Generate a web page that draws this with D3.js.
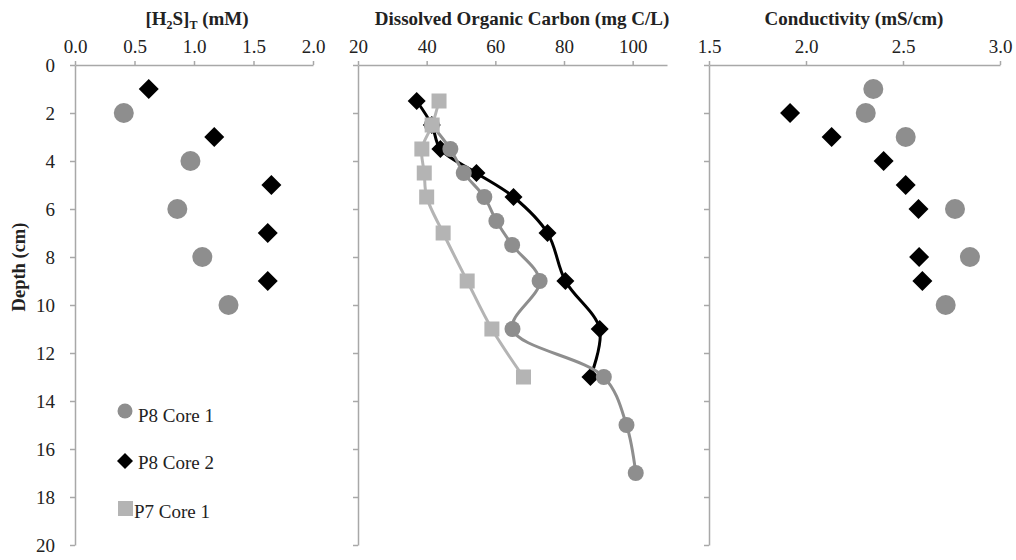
<!DOCTYPE html>
<html>
<head>
<meta charset="utf-8">
<script src="https://cdn.jsdelivr.net/npm/d3@7"></script>
<style>
  body { margin: 0; background: #fff; }
  svg, svg text { font-family: "Liberation Serif", "Times New Roman", serif; }
</style>
</head>
<body>
<div id="chart"></div>
<script>
// depth ticks shared by all three panels
const depthTicks = [0, 2, 4, 6, 8, 10, 12, 14, 16, 18, 20];

// [H2S]T (mM)
const h2sTicks = [0.0, 0.5, 1.0, 1.5, 2.0];
const h2sCore1Depth = [2, 4, 6, 8, 10];
const h2sCore1 = [0.41, 0.97, 0.86, 1.07, 1.29];
const h2sCore2Depth = [1, 3, 5, 7, 9];
const h2sCore2 = [0.62, 1.17, 1.65, 1.62, 1.62];

// Dissolved organic carbon (mg C/L)
const docTicks = [20, 40, 60, 80, 100];
const docCore1Depth = [2.5, 3.5, 4.5, 5.5, 6.5, 7.5, 9, 11, 13, 15, 17];
const docCore1 = [41.5, 46.9, 50.8, 56.8, 60.3, 64.9, 72.9, 65.0, 91.6, 98.2, 100.9];
const docCore2Depth = [1.5, 2.5, 3.5, 4.5, 5.5, 7, 9, 11, 13];
const docCore2 = [37.1, 41.5, 44.0, 54.5, 65.3, 75.2, 80.4, 90.4, 87.7];
const docP7Depth = [1.5, 2.5, 3.5, 4.5, 5.5, 7, 9, 11, 13];
const docP7 = [43.6, 41.6, 38.6, 39.3, 40.0, 44.8, 51.8, 59.0, 68.2];

// Conductivity (mS/cm)
const condTicks = [1.5, 2.0, 2.5, 3.0];
const condCore1Depth = [1, 2, 3, 6, 8, 10];
const condCore1 = [2.347, 2.308, 2.514, 2.768, 2.845, 2.72];
const condCore2Depth = [2, 3, 4, 5, 6, 8, 9];
const condCore2 = [1.918, 2.132, 2.40, 2.514, 2.58, 2.583, 2.60];

const legendNames = ["P8 Core 1", "P8 Core 2", "P7 Core 1"];

const colCore1 = "#8e8e8e", colCore2 = "#000000", colP7 = "#b4b4b4";
const axisCol = "#a8a8a8", textCol = "#222";
const serif = "'Liberation Serif', 'Times New Roman', serif";

const svg = d3.select("#chart").append("svg")
    .attr("width", 1016).attr("height", 560);

const y = d3.scaleLinear().domain([0, 20]).range([65, 545]);

const panels = [
    {title: "[H2S]T (mM)", x: d3.scaleLinear().domain([0, 2]).range([75, 313]), ticks: h2sTicks, fmt: d3.format(".1f"), labels: true, cx: 197},
    {title: "Dissolved Organic Carbon (mg C/L)", x: d3.scaleLinear().domain([20, 110]).range([358, 667]), ticks: docTicks, fmt: d3.format("d"), labels: false, cx: 522},
    {title: "Conductivity (mS/cm)", x: d3.scaleLinear().domain([1.5, 3]).range([709, 1000]), ticks: condTicks, fmt: d3.format(".1f"), labels: false, cx: 854}
];

function styleAxis(g) {
    g.attr("font-family", serif).attr("font-size", 19);
    g.select(".domain").attr("stroke", axisCol).attr("stroke-width", 1.5);
    g.selectAll(".tick line").attr("stroke", axisCol).attr("stroke-width", 1.5);
    g.selectAll(".tick text").attr("fill", textCol);
}

panels.forEach((p, i) => {
    const x0 = p.x.range()[0];
    // x axis on top
    svg.append("g")
        .attr("transform", `translate(0, ${y(0)})`)
        .call(d3.axisTop(p.x).tickValues(p.ticks).tickFormat(p.fmt).tickSize(4).tickPadding(8).tickSizeOuter(0))
        .call(styleAxis);
    // depth axis
    const ya = d3.axisLeft(y).tickValues(depthTicks).tickSize(5).tickPadding(15).tickSizeOuter(0);
    if (!p.labels) ya.tickFormat("");
    svg.append("g")
        .attr("transform", `translate(${x0}, 0)`)
        .call(ya)
        .call(styleAxis);

    const t = svg.append("text")
        .attr("x", p.cx).attr("y", 25)
        .attr("text-anchor", "middle")
        .attr("font-family", serif)
        .attr("font-weight", "bold")
        .attr("font-size", 19)
        .attr("fill", textCol);
    if (i === 0) {
        t.append("tspan").text("[H");
        t.append("tspan").attr("font-size", 12).attr("dy", 4).text("2");
        t.append("tspan").attr("dy", -4).text("S]");
        t.append("tspan").attr("font-size", 12).attr("dy", 4).text("T");
        t.append("tspan").attr("dy", -4).text(" (mM)");
    } else {
        t.text(p.title);
    }
});

svg.append("text")
    .attr("transform", "translate(25, 267) rotate(-90)")
    .attr("text-anchor", "middle")
    .attr("font-family", serif)
    .attr("font-weight", "bold")
    .attr("font-size", 18.5)
    .attr("fill", textCol)
    .text("Depth (cm)");

function diamond(s) {
    return `M0,${-s}L${s},0L0,${s}L${-s},0Z`;
}

function drawCircles(xs, depths, vals, r) {
    svg.append("g").selectAll("circle")
        .data(vals.map((v, i) => [v, depths[i]]))
        .join("circle")
        .attr("cx", d => xs(d[0])).attr("cy", d => y(d[1]))
        .attr("r", r).attr("fill", colCore1);
}
function drawDiamonds(xs, depths, vals, s) {
    svg.append("g").selectAll("path")
        .data(vals.map((v, i) => [v, depths[i]]))
        .join("path")
        .attr("transform", d => `translate(${xs(d[0])}, ${y(d[1])})`)
        .attr("d", diamond(s)).attr("fill", colCore2);
}
function drawSquares(xs, depths, vals, s) {
    svg.append("g").selectAll("rect")
        .data(vals.map((v, i) => [v, depths[i]]))
        .join("rect")
        .attr("x", d => xs(d[0]) - s / 2).attr("y", d => y(d[1]) - s / 2)
        .attr("width", s).attr("height", s).attr("fill", colP7);
}
function drawLine(xs, depths, vals, col) {
    const line = d3.line().x(d => xs(d[0])).y(d => y(d[1])).curve(d3.curveCatmullRom.alpha(0.5));
    svg.append("path")
        .datum(vals.map((v, i) => [v, depths[i]]))
        .attr("d", line)
        .attr("fill", "none").attr("stroke", col).attr("stroke-width", 3);
}

// panel 1
drawCircles(panels[0].x, h2sCore1Depth, h2sCore1, 10);
drawDiamonds(panels[0].x, h2sCore2Depth, h2sCore2, 10);

// panel 2
const xd = panels[1].x;
drawLine(xd, docCore2Depth, docCore2, colCore2);
drawDiamonds(xd, docCore2Depth, docCore2, 9);
drawLine(xd, docCore1Depth, docCore1, colCore1);
drawCircles(xd, docCore1Depth, docCore1, 8);
drawLine(xd, docP7Depth, docP7, colP7);
drawSquares(xd, docP7Depth, docP7, 15);

// panel 3
drawCircles(panels[2].x, condCore1Depth, condCore1, 10);
drawDiamonds(panels[2].x, condCore2Depth, condCore2, 10);

// legend
const lg = svg.append("g").attr("font-family", serif).attr("font-size", 19).attr("fill", textCol);
lg.append("circle").attr("cx", 125).attr("cy", 411).attr("r", 7.5).attr("fill", colCore1);
lg.append("text").attr("x", 138).attr("y", 422).text(legendNames[0]);
lg.append("path").attr("transform", "translate(125, 461)").attr("d", diamond(8)).attr("fill", colCore2);
lg.append("text").attr("x", 138).attr("y", 469).text(legendNames[1]);
lg.append("rect").attr("x", 118).attr("y", 501).attr("width", 15).attr("height", 15).attr("fill", colP7);
lg.append("text").attr("x", 134).attr("y", 518).text(legendNames[2]);
</script>
</body>
</html>
